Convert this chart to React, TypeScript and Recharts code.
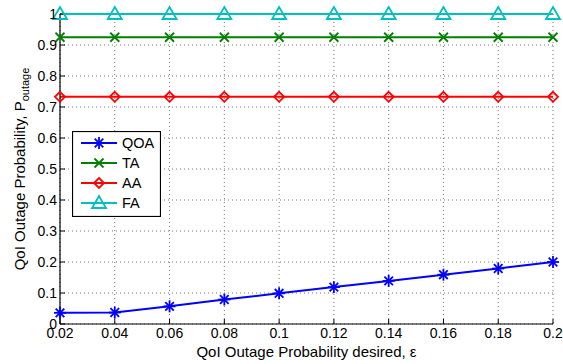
import { LineChart, Line, XAxis, YAxis, CartesianGrid, Label } from 'recharts';

const epsilon = [0.02, 0.04, 0.06, 0.08, 0.1, 0.12, 0.14, 0.16, 0.18, 0.2];
const qoa = [0.036, 0.037, 0.057, 0.079, 0.099, 0.119, 0.139, 0.159, 0.179, 0.2];
const ta = [0.925, 0.925, 0.925, 0.925, 0.925, 0.925, 0.925, 0.925, 0.925, 0.925];
const aa = [0.733, 0.733, 0.733, 0.733, 0.733, 0.733, 0.733, 0.733, 0.733, 0.733];
const fa = [1, 1, 1, 1, 1, 1, 1, 1, 1, 1];
const xTicks = [0.02, 0.04, 0.06, 0.08, 0.1, 0.12, 0.14, 0.16, 0.18, 0.2];
const yTicks = [0, 0.1, 0.2, 0.3, 0.4, 0.5, 0.6, 0.7, 0.8, 0.9, 1];

const data = epsilon.map((e, i) => ({ e, qoa: qoa[i], ta: ta[i], aa: aa[i], fa: fa[i] }));

const FONT = '"Liberation Sans", Arial, Helvetica, sans-serif';
const BLUE = '#0000ff';
const GREEN = '#008000';
const RED = '#ff0000';
const CYAN = '#00bfbf';

type MarkerKind = 'star' | 'x' | 'diamond' | 'tri';

function markerShape(kind: MarkerKind, cx: number, cy: number, color: string) {
  if (kind === 'star') {
    const s = 6;
    const d = 4.3;
    return (
      <g stroke={color} strokeWidth={1.8}>
        <line x1={cx - s} y1={cy} x2={cx + s} y2={cy} />
        <line x1={cx} y1={cy - s} x2={cx} y2={cy + s} />
        <line x1={cx - d} y1={cy - d} x2={cx + d} y2={cy + d} />
        <line x1={cx - d} y1={cy + d} x2={cx + d} y2={cy - d} />
      </g>
    );
  }
  if (kind === 'x') {
    const d = 4.5;
    return (
      <g stroke={color} strokeWidth={1.8}>
        <line x1={cx - d} y1={cy - d} x2={cx + d} y2={cy + d} />
        <line x1={cx - d} y1={cy + d} x2={cx + d} y2={cy - d} />
      </g>
    );
  }
  if (kind === 'diamond') {
    const d = 5;
    return (
      <polygon
        points={`${cx},${cy - d} ${cx + d},${cy} ${cx},${cy + d} ${cx - d},${cy}`}
        fill="none"
        stroke={color}
        strokeWidth={1.8}
      />
    );
  }
  return (
    <polygon
      points={`${cx},${cy - 7} ${cx + 7},${cy + 5} ${cx - 7},${cy + 5}`}
      fill="none"
      stroke={color}
      strokeWidth={1.8}
    />
  );
}

const makeDot = (kind: MarkerKind, color: string) => (props: any) => {
  const { cx, cy, index } = props;
  return <g key={`${kind}-${index}`}>{markerShape(kind, cx, cy, color)}</g>;
};

const legendItems: { name: string; color: string; kind: MarkerKind }[] = [
  { name: 'QOA', color: BLUE, kind: 'star' },
  { name: 'TA', color: GREEN, kind: 'x' },
  { name: 'AA', color: RED, kind: 'diamond' },
  { name: 'FA', color: CYAN, kind: 'tri' },
];

function LegendBox() {
  return (
    <svg width={89} height={86} style={{ display: 'block' }}>
      <rect x={0.5} y={0.5} width={88} height={85} fill="#fff" stroke="#000" strokeWidth={1.2} />
      {legendItems.map((it, i) => {
        const y = 12 + i * 20;
        return (
          <g key={it.name}>
            <line x1={9} y1={y} x2={45} y2={y} stroke={it.color} strokeWidth={2} />
            {markerShape(it.kind, 27, y, it.color)}
            <text x={50} y={y + 5} fontSize={14.5} fontFamily={FONT} fill="#000">
              {it.name}
            </text>
          </g>
        );
      })}
    </svg>
  );
}

const YLabel = (props: any) => {
  const { viewBox } = props;
  const x = 25;
  const y = viewBox.y + viewBox.height / 2;
  return (
    <text
      x={x}
      y={y}
      transform={`rotate(-90, ${x}, ${y})`}
      textAnchor="middle"
      fontSize={15}
      fontFamily={FONT}
      fill="#000"
    >
      QoI Outage Probability, P
      <tspan fontSize={11} dy={4}>outage</tspan>
    </text>
  );
};

const XLabel = (props: any) => {
  const { viewBox } = props;
  const x = viewBox.x + viewBox.width / 2;
  return (
    <text x={x} y={357} textAnchor="middle" fontSize={15} fontFamily={FONT} fill="#000">
      QoI Outage Probability desired, ε
    </text>
  );
};

const tickStyle = { fontSize: 14, fontFamily: FONT, fill: '#000' };

export default function App() {
  return (
    <div style={{ position: 'absolute', left: 0, top: 0, width: 563, height: 364, background: '#fff' }}>
      <LineChart width={563} height={364} data={data} margin={{ top: 14, right: 10, bottom: 0, left: 0 }}>
        <CartesianGrid xAxisId="b" yAxisId="l" stroke="#777" strokeDasharray="1 3" />
        <XAxis
          xAxisId="b"
          dataKey="e"
          type="number"
          domain={[0.02, 0.2]}
          ticks={xTicks}
          height={40}
          tick={tickStyle}
          tickSize={-5}
          tickMargin={9}
          axisLine={{ stroke: '#000', strokeWidth: 1.2 }}
          tickLine={{ stroke: '#000' }}
        >
          <Label content={XLabel} />
        </XAxis>
        <XAxis
          xAxisId="t"
          orientation="top"
          dataKey="e"
          type="number"
          domain={[0.02, 0.2]}
          ticks={xTicks}
          height={0}
          tickSize={-5}
          tickFormatter={() => ''}
          axisLine={{ stroke: '#000', strokeWidth: 1.2 }}
          tickLine={{ stroke: '#000' }}
        />
        <YAxis
          yAxisId="l"
          type="number"
          domain={[0, 1]}
          ticks={yTicks}
          width={60}
          tick={tickStyle}
          tickSize={-5}
          tickMargin={8}
          axisLine={{ stroke: '#000', strokeWidth: 1.2 }}
          tickLine={{ stroke: '#000' }}
        >
          <Label content={YLabel} />
        </YAxis>
        <YAxis
          yAxisId="r"
          orientation="right"
          type="number"
          domain={[0, 1]}
          ticks={yTicks}
          width={0}
          tickSize={-5}
          tickFormatter={() => ''}
          axisLine={{ stroke: '#000', strokeWidth: 1.2 }}
          tickLine={{ stroke: '#000' }}
        />
        <Line xAxisId="b" yAxisId="l" dataKey="qoa" stroke={BLUE} strokeWidth={2} dot={makeDot('star', BLUE)} isAnimationActive={false} />
        <Line xAxisId="b" yAxisId="l" dataKey="ta" stroke={GREEN} strokeWidth={2} dot={makeDot('x', GREEN)} isAnimationActive={false} />
        <Line xAxisId="b" yAxisId="l" dataKey="aa" stroke={RED} strokeWidth={2} dot={makeDot('diamond', RED)} isAnimationActive={false} />
        <Line xAxisId="b" yAxisId="l" dataKey="fa" stroke={CYAN} strokeWidth={2} dot={makeDot('tri', CYAN)} isAnimationActive={false} />
      </LineChart>
      <div style={{ position: 'absolute', left: 72, top: 131 }}>
        <LegendBox />
      </div>
    </div>
  );
}
